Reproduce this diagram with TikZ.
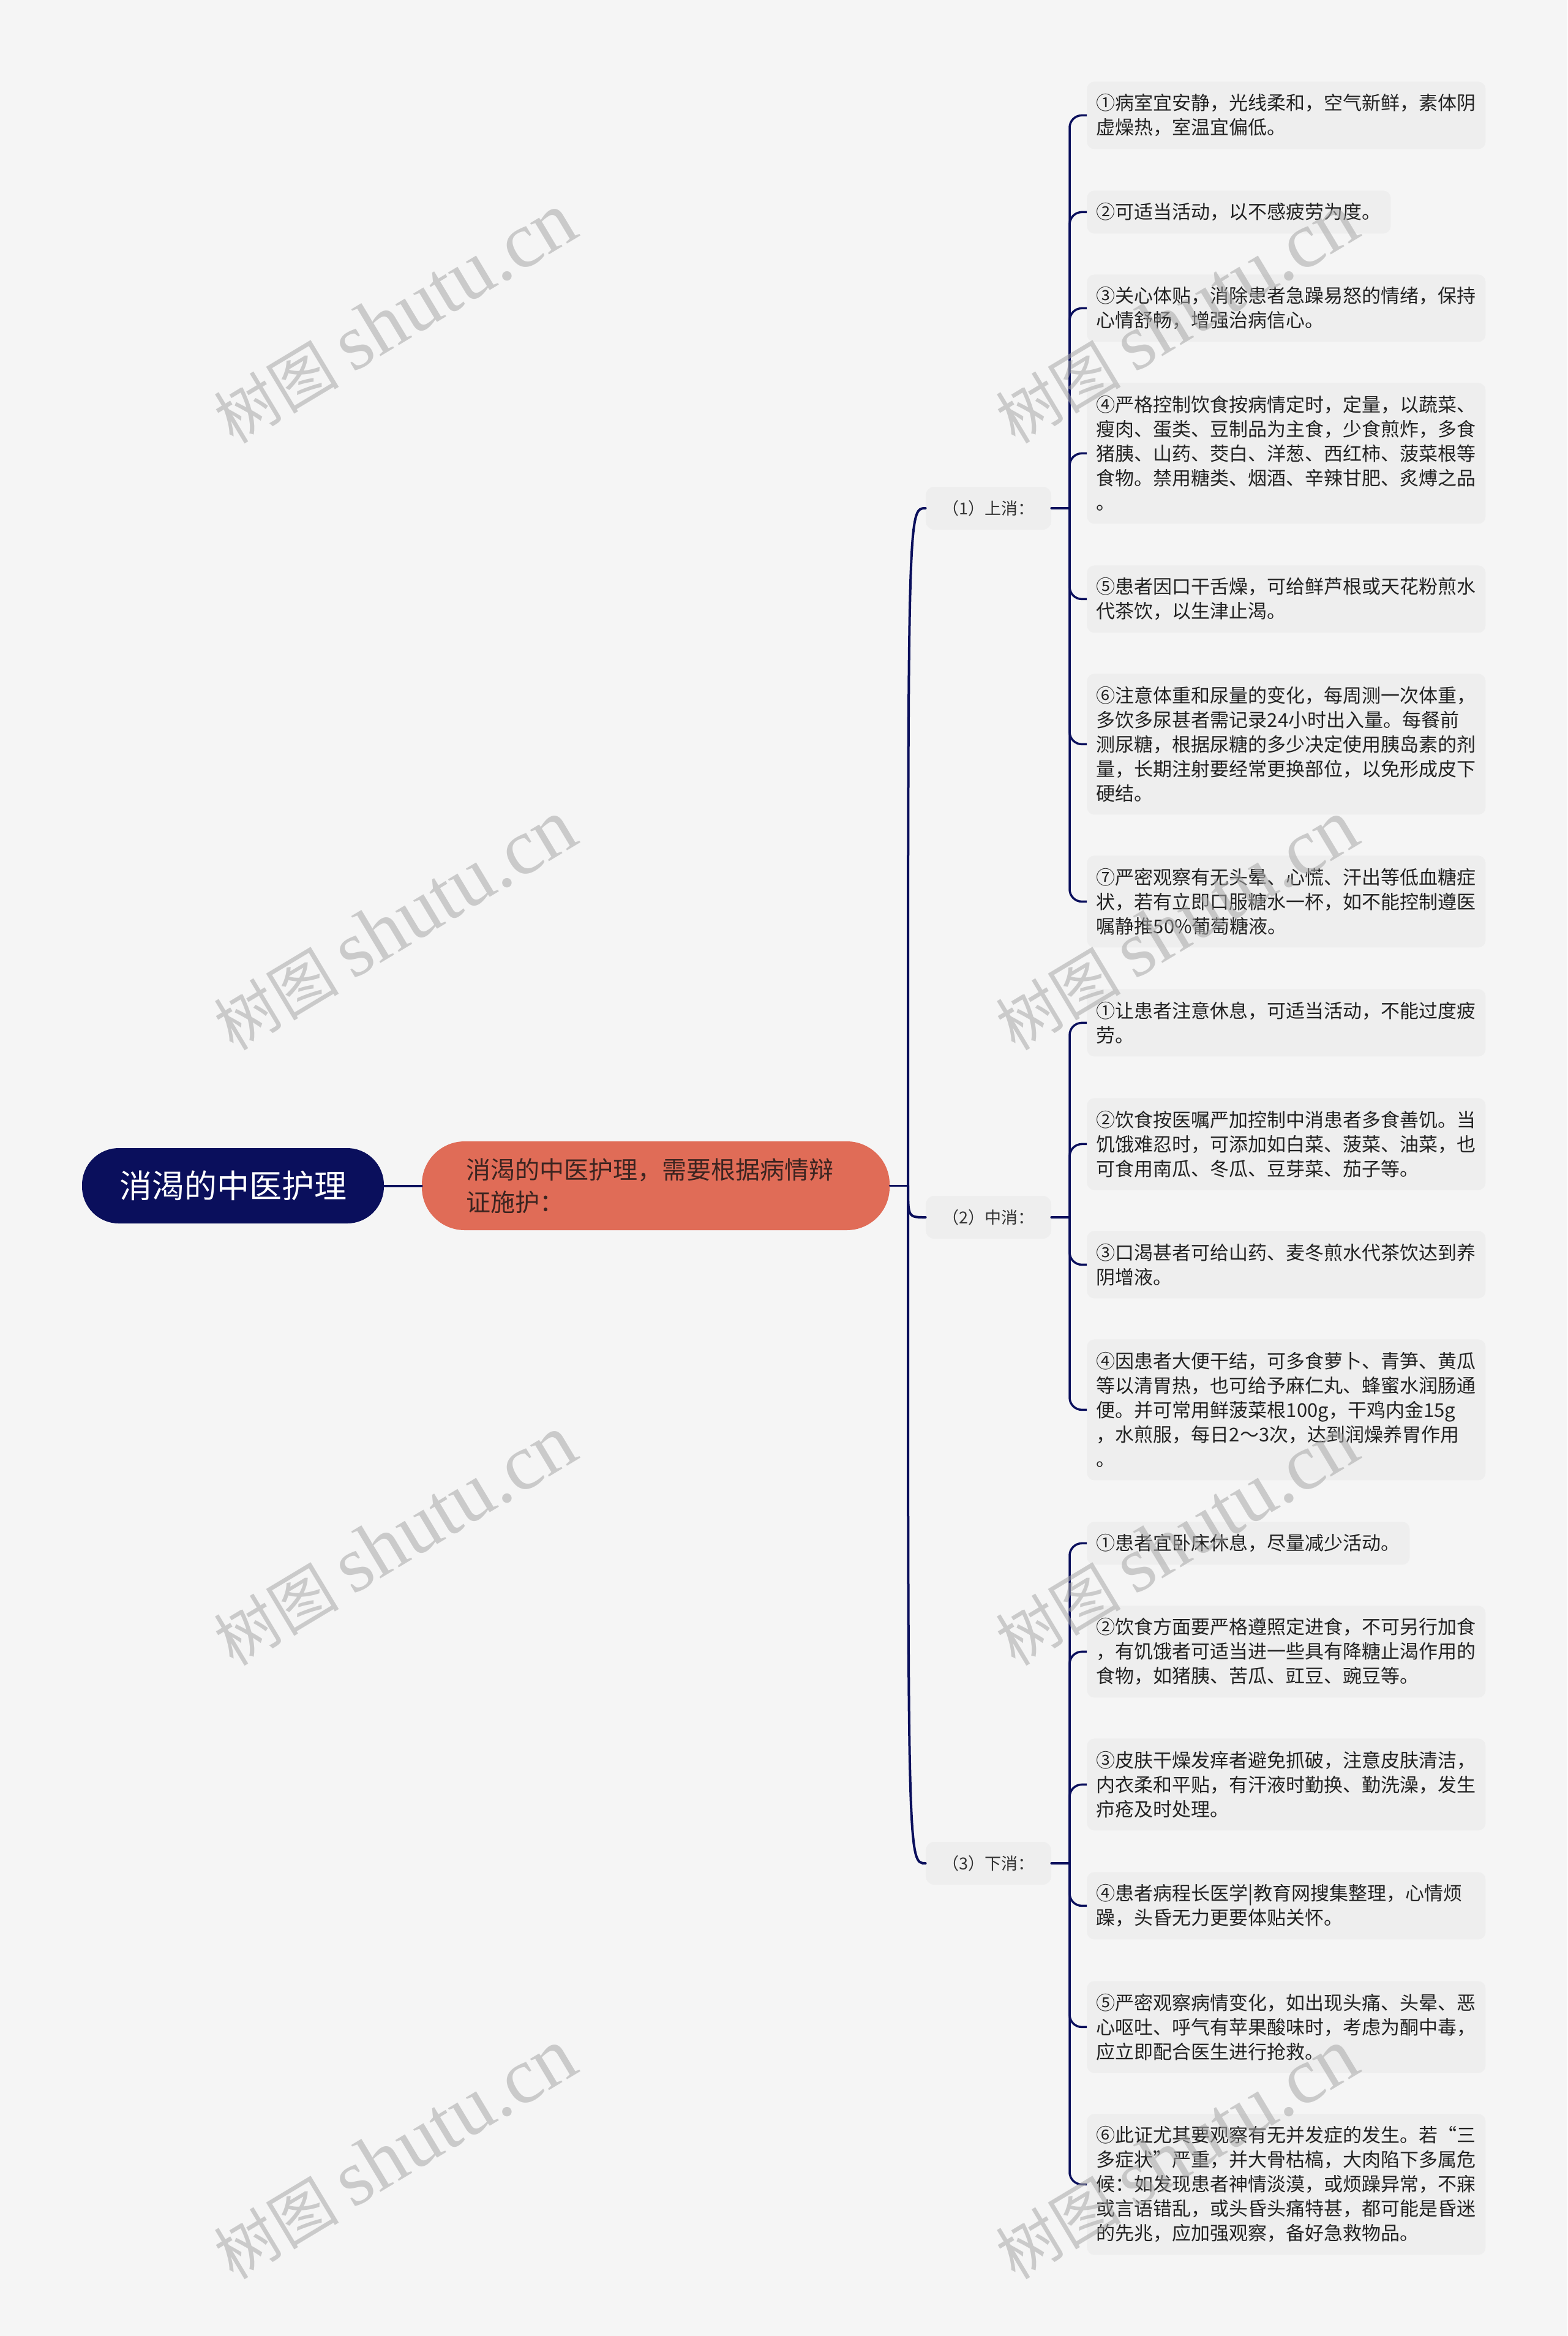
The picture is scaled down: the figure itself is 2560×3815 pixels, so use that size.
\documentclass[tikz,border=0pt]{standalone}
\usepackage{fontspec}
\setmainfont{Noto Sans CJK SC}
\newfontfamily\wmserif{Liberation Serif}
\usetikzlibrary{calc}
\definecolor{bgc}{HTML}{F5F5F5}
\definecolor{navy}{HTML}{0A0F5C}
\definecolor{coral}{HTML}{E06C57}
\definecolor{coraltext}{HTML}{3C2420}
\definecolor{leafc}{HTML}{EEEEEE}
\definecolor{txt}{HTML}{222222}
\definecolor{labtxt}{HTML}{333333}
\definecolor{wmc}{HTML}{A8A8A8}
\newdimen\pxu \pxu=0.5pt
\newcommand\lffont{\fontsize{15.5pt}{20pt}\selectfont}
\newcommand\rtfont{\fontsize{26.5pt}{30pt}\selectfont}
\newcommand\mnfont{\fontsize{20pt}{26.5pt}\selectfont}
\newcommand\lbfont{\fontsize{13.5pt}{16pt}\selectfont}
\newcommand\wmfont{\fontsize{51pt}{60pt}\selectfont}
\newcommand\wmlatfont{\fontsize{65pt}{70pt}\selectfont}
\tikzset{
  rootnode/.style={fill=navy, text=white, rounded corners=60\pxu, inner sep=0pt,
    minimum width=493\pxu, minimum height=123\pxu, font=\rtfont},
  mainnode/.style={fill=coral, text=coraltext, rounded corners=70\pxu, inner sep=0pt,
    minimum width=764\pxu, minimum height=145\pxu, text width=620\pxu, align=left, font=\mnfont},
  labnode/.style={fill=leafc, text=labtxt, rounded corners=14\pxu, inner sep=0pt,
    minimum width=205\pxu, minimum height=70\pxu, font=\lbfont},
  leafbox/.style={fill=leafc, text=txt, rounded corners=12\pxu, inner xsep=15.5\pxu, inner ysep=0pt,
    align=left, anchor=north west, font=\lffont},
  wide/.style={text width=620\pxu},
  conn/.style={draw=navy, line cap=round},
  subconn/.style={draw=navy, line width=3.5\pxu, rounded corners=20\pxu},
  wm/.style={rotate=31, text=wmc, text opacity=0.55, inner sep=0pt, font=\wmfont}
}
\begin{document}
\begin{tikzpicture}[x=0.5pt,y=-0.5pt]
\useasboundingbox (0,0) rectangle (2560,3815);
\fill[bgc] (0,0) rectangle (2560,3815);

% main nodes
\node[rootnode] (root) at (380.5,1936.5) {消渴的中医护理};
\node[mainnode] (main) at (1071,1936.5) {消渴的中医护理，需要根据病情辩\\证施护：};

% labels
\node[labnode] (lab1) at (1614.5,830) {（1）上消：};
\node[labnode] (lab2) at (1614.5,1988) {（2）中消：};
\node[labnode] (lab3) at (1614.5,3043) {（3）下消：};

\coordinate (hub) at (1483,1936.5);
\coordinate (j1) at (1747,830);
\coordinate (j2) at (1747,1988);
\coordinate (j3) at (1747,3043);

% group 1
\node[leafbox, wide, minimum height=110\pxu] (l1a) at (1775,133) {①病室宜安静，光线柔和，空气新鲜，素体阴\\虚燥热，室温宜偏低。};
\node[leafbox, minimum height=70\pxu] (l1b) at (1775,311) {②可适当活动，以不感疲劳为度。};
\node[leafbox, wide, minimum height=110\pxu] (l1c) at (1775,448) {③关心体贴，消除患者急躁易怒的情绪，保持\\心情舒畅，增强治病信心。};
\node[leafbox, wide, minimum height=230\pxu] (l1d) at (1775,625) {④严格控制饮食按病情定时，定量，以蔬菜、\\瘦肉、蛋类、豆制品为主食，少食煎炸，多食\\猪胰、山药、茭白、洋葱、西红柿、菠菜根等\\食物。禁用糖类、烟酒、辛辣甘肥、炙煿之品\\。};
\node[leafbox, wide, minimum height=110\pxu] (l1e) at (1775,923) {⑤患者因口干舌燥，可给鲜芦根或天花粉煎水\\代茶饮，以生津止渴。};
\node[leafbox, wide, minimum height=230\pxu] (l1f) at (1775,1100) {⑥注意体重和尿量的变化，每周测一次体重，\\多饮多尿甚者需记录24小时出入量。每餐前\\测尿糖，根据尿糖的多少决定使用胰岛素的剂\\量，长期注射要经常更换部位，以免形成皮下\\硬结。};
\node[leafbox, wide, minimum height=150\pxu] (l1g) at (1775,1397) {⑦严密观察有无头晕、心慌、汗出等低血糖症\\状，若有立即口服糖水一杯，如不能控制遵医\\嘱静推50\%葡萄糖液。};

% group 2
\node[leafbox, wide, minimum height=110\pxu] (l2a) at (1775,1615) {①让患者注意休息，可适当活动，不能过度疲\\劳。};
\node[leafbox, wide, minimum height=150\pxu] (l2b) at (1775,1793) {②饮食按医嘱严加控制中消患者多食善饥。当\\饥饿难忍时，可添加如白菜、菠菜、油菜，也\\可食用南瓜、冬瓜、豆芽菜、茄子等。};
\node[leafbox, wide, minimum height=110\pxu] (l2c) at (1775,2010) {③口渴甚者可给山药、麦冬煎水代茶饮达到养\\阴增液。};
\node[leafbox, wide, minimum height=230\pxu] (l2d) at (1775,2187) {④因患者大便干结，可多食萝卜、青笋、黄瓜\\等以清胃热，也可给予麻仁丸、蜂蜜水润肠通\\便。并可常用鲜菠菜根100g，干鸡内金15g\\，水煎服，每日2～3次，达到润燥养胃作用\\。};

% group 3
\node[leafbox, minimum height=70\pxu] (l3a) at (1775,2485) {①患者宜卧床休息，尽量减少活动。};
\node[leafbox, wide, minimum height=150\pxu] (l3b) at (1775,2622) {②饮食方面要严格遵照定进食，不可另行加食\\，有饥饿者可适当进一些具有降糖止渴作用的\\食物，如猪胰、苦瓜、豇豆、豌豆等。};
\node[leafbox, wide, minimum height=150\pxu] (l3c) at (1775,2839) {③皮肤干燥发痒者避免抓破，注意皮肤清洁，\\内衣柔和平贴，有汗液时勤换、勤洗澡，发生\\疖疮及时处理。};
\node[leafbox, wide, minimum height=110\pxu] (l3d) at (1775,3057) {④患者病程长医学|教育网搜集整理，心情烦\\躁，头昏无力更要体贴关怀。};
\node[leafbox, wide, minimum height=150\pxu] (l3e) at (1775,3235) {⑤严密观察病情变化，如出现头痛、头晕、恶\\心呕吐、呼气有苹果酸味时，考虑为酮中毒，\\应立即配合医生进行抢救。};
\node[leafbox, wide, minimum height=230\pxu] (l3f) at (1775,3452) {⑥此证尤其要观察有无并发症的发生。若“三\\多症状”严重，并大骨枯槁，大肉陷下多属危\\候：如发现患者神情淡漠，或烦躁异常，不寐\\或言语错乱，或头昏头痛特甚，都可能是昏迷\\的先兆，应加强观察，备好急救物品。};

% connectors
\draw[conn, line width=4\pxu] (root.east) -- (main.west);
\draw[conn, line width=3\pxu] (main.east) -- (hub);
\foreach \l in {lab1,lab2,lab3}
  \draw[conn, line width=4\pxu] (hub) .. controls (hub |- \l.west) .. (\l.west);
\draw[conn, line width=4\pxu] (lab1.east) -- (j1);
\draw[conn, line width=4\pxu] (lab2.east) -- (j2);
\draw[conn, line width=4\pxu] (lab3.east) -- (j3);
\foreach \l in {l1a,l1b,l1c,l1d,l1e,l1f,l1g}
  \draw[subconn] (j1) |- (\l.west);
\foreach \l in {l2a,l2b,l2c,l2d}
  \draw[subconn] (j2) |- (\l.west);
\foreach \l in {l3a,l3b,l3c,l3d,l3e,l3f}
  \draw[subconn] (j3) |- (\l.west);

% watermarks
\foreach \x/\y [count=\i] in {645/520, 1922/520, 645/1511, 1922/1511, 645/2516, 1922/2516, 645/3518, 1922/3518}
  \node[wm] (wm\i) at (\x,\y) {树图 {\wmserif\wmlatfont shutu.cn}};
\end{tikzpicture}
\end{document}
